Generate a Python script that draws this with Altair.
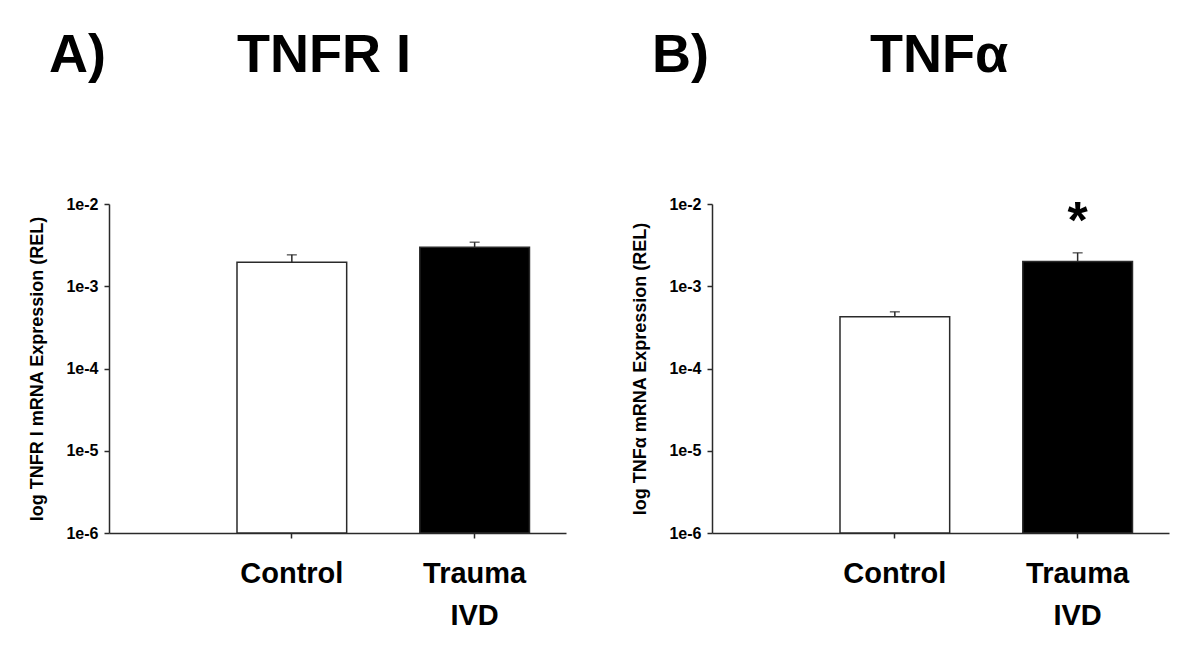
import altair as alt
import pandas as pd

# ---- data ----
groups = ["Control", "Trauma IVD"]
fills = ["white", "black"]
tnfr_mean = [1.96e-3, 2.98e-3]
tnfr_upper = [2.41e-3, 3.43e-3]
tnfa_mean = [4.25e-4, 2.0e-3]
tnfa_upper = [4.89e-4, 2.55e-3]
y_ticks = [1e-6, 1e-5, 1e-4, 1e-3, 1e-2]
y_base = [1e-6, 1e-6]
tnfa_sig = ["Trauma IVD"]

FONT = "Liberation Sans"
INK = "#2a2a2a"
W, H = 457, 329


def panel(mean, upper, ytitle, letter, gene, gene_dx, sig):
    df = pd.DataFrame({"group": groups, "mean": mean, "upper": upper,
                       "fill": fills, "base": y_base})
    xscale = alt.Scale(domain=groups, paddingInner=0.4, paddingOuter=0.45, align=0.778)
    yscale = alt.Scale(type="log", domain=[y_ticks[0], y_ticks[-1]])
    xenc = alt.X("group:N", scale=xscale, axis=alt.Axis(
        title=None, labelAngle=0, labelFontSize=29, labelFontWeight="bold",
        labelFont=FONT, labelColor="black", labelPadding=21, labelLineHeight=42,
        labelExpr="datum.label == 'Trauma IVD' ? ['Trauma', 'IVD'] : datum.label",
        tickSize=5, labelLimit=300, grid=False))
    yenc = alt.Y("mean:Q", scale=yscale, axis=alt.Axis(
        title=ytitle, values=y_ticks, grid=False,
        labelExpr="'1e' + round(log(datum.value) / LN10)",
        labelFontSize=16, labelFontWeight="bold", labelFont=FONT, labelColor="black",
        labelPadding=6, tickSize=5,
        titleFontSize=18, titleFontWeight="bold", titleFont=FONT, titleColor="black",
        titlePadding=19))
    bars = alt.Chart(df).mark_bar(stroke=INK, strokeWidth=1.5).encode(
        x=xenc, y=yenc, y2="base:Q", fill=alt.Fill("fill:N", scale=None))
    rule = alt.Chart(df).mark_rule(color=INK, strokeWidth=1.5).encode(
        x="group:N", y="mean:Q", y2="upper:Q")
    cap = alt.Chart(df).mark_tick(color=INK, thickness=1.5, size=10).encode(
        x="group:N", y="upper:Q")
    tl = pd.DataFrame({"t": [letter]})
    tg = pd.DataFrame({"t": [gene]})
    t1 = alt.Chart(tl).mark_text(font=FONT, fontSize=54, fontWeight="bold",
                                 align="left", baseline="alphabetic", color="black").encode(
        text="t:N", x=alt.value(-60), y=alt.value(-132))
    t2 = alt.Chart(tg).mark_text(font=FONT, fontSize=54, fontWeight="bold",
                                 align="left", baseline="alphabetic", color="black").encode(
        text="t:N", x=alt.value(gene_dx), y=alt.value(-132))
    layers = [bars, rule, cap, t1, t2]
    if sig:
        ds = df[df["group"].isin(sig)]
        star = alt.Chart(ds).mark_text(text="*", font=FONT, fontSize=52, fontWeight="bold",
                                       baseline="alphabetic", dy=-15, color="black").encode(
            x="group:N", y="upper:Q")
        layers.append(star)
    return alt.layer(*layers).properties(width=W, height=H)


pa = panel(tnfr_mean, tnfr_upper, "log TNFR I mRNA Expression (REL)", "A)", "TNFR I", 128, [])
pb = panel(tnfa_mean, tnfa_upper, "log TNFα mRNA Expression (REL)", "B)", "TNFα", 158, tnfa_sig)

chart = alt.hconcat(pa, pb, spacing=65).properties(
    padding={"left": 20, "top": 21, "right": 5, "bottom": 5}
).configure(background="white").configure_view(
    strokeWidth=0, stroke="transparent"
).configure_axis(
    grid=False, domainColor=INK, domainWidth=1.5, tickColor=INK, tickWidth=1.5
)

chart.save("out.html", embed_options={"renderer": "svg", "actions": False})
